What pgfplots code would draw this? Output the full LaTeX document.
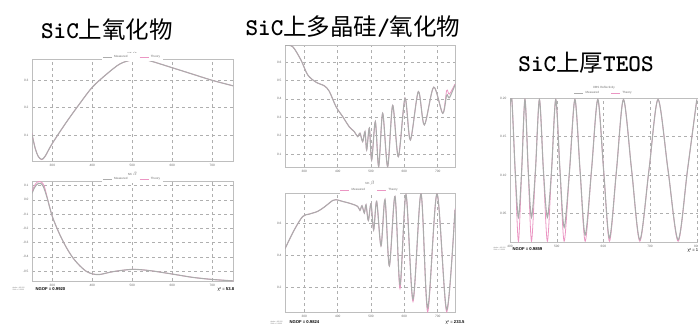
\documentclass[border=0pt]{standalone}
\usepackage{fontspec}
\setmainfont{Liberation Sans}
\newfontfamily\cjk{Noto Sans CJK SC}
\usepackage{pgfplots}
\pgfplotsset{compat=1.18}
\definecolor{meas}{RGB}{172,172,172}
\definecolor{theo}{RGB}{235,150,195}
\definecolor{framec}{RGB}{190,190,190}
\definecolor{gridc}{RGB}{175,175,175}
\definecolor{lbl}{RGB}{110,110,110}
\newcommand{\ttl}{\ttfamily\bfseries\fontsize{24}{24}\selectfont}
\newcommand{\ctl}{\cjk\mdseries\fontsize{23.5}{24}\selectfont}
\pgfplotsset{
 panel/.style={
  scale only axis,
  axis line style={framec, line width=0.8pt},
  grid=major, major grid style={gridc, dashed, line width=0.4pt},
  major tick length=0pt,
  tick label style={font=\fontsize{3.2}{3.5}\selectfont, text=lbl},
  /pgf/number format/assume math mode=true,
  clip mode=individual,
  legend style={draw=none, fill=white, font=\fontsize{3}{3.5}\selectfont, text=lbl,
    legend columns=2, anchor=center, inner sep=0.3pt,
    /tikz/every even column/.append style={column sep=10pt}},
  legend image code/.code={\draw[##1, line width=0.4pt] (0pt,0pt) -- (9pt,0pt);},
  every axis plot/.append style={no markers, smooth},
 },
 th/.style={theo, line width=0.8pt},
 me/.style={meas, line width=1.1pt},
}
\begin{document}
\begin{tikzpicture}
% ---------- titles ----------
\node[anchor=base] at (107pt,287pt) {\ttl SiC{\ctl 上氧化物}};
\node[anchor=base] at (353pt,290pt) {\ttl SiC{\ctl 上多晶硅}/{\ctl 氧化物}};
\node[anchor=base] at (586pt,253.5pt) {\ttl SiC{\ctl 上厚}TEOS};

% ---------- panel 1 top ----------
\begin{axis}[panel, at={(32pt,164pt)}, anchor=south west, width=201pt, height=102pt,
  xmin=249, xmax=752, ymin=0.005, ymax=0.378,
  xtick={300,400,500,600,700}, ytick={0.1,0.2,0.3},
  yticklabel style={/pgf/number format/fixed,/pgf/number format/zerofill,/pgf/number format/precision=1},
  legend style={at={(0.5,1)}, yshift=2pt}]
\addlegendimage{meas}\addlegendentry{Measured}
\addlegendimage{theo}\addlegendentry{Theory}
\addplot[th, forget plot] coordinates {(248.5,0.108) (257,0.052) (265,0.021) (273.5,0.010) (282,0.022) (300,0.069) (336,0.149) (369,0.216) (400,0.275) (436,0.323) (469,0.360) (500,0.375) (527,0.377) (552,0.368) (600,0.346) (650,0.323) (700,0.300) (752,0.280)};
\addplot[me, forget plot] coordinates {(248.5,0.106) (257,0.051) (265,0.021) (273.5,0.011) (282,0.023) (300,0.070) (336,0.149) (369,0.216) (400,0.275) (436,0.323) (469,0.360) (500,0.375) (527,0.377) (552,0.368) (600,0.346) (650,0.323) (700,0.300) (752,0.280)};
\node[font=\fontsize{3}{3.5}\selectfont, text=lbl] at (rel axis cs:0.5,1) [yshift=6pt] {NK $\alpha$};
\end{axis}

% ---------- panel 1 bottom ----------
\begin{axis}[panel, at={(32pt,44pt)}, anchor=south west, width=201pt, height=100pt,
  xmin=249, xmax=752, ymin=-0.571, ymax=0.133,
  xtick={300,400,500,600,700}, ytick={-0.5,-0.4,-0.3,-0.2,-0.1,0,0.1},
  yticklabel style={/pgf/number format/fixed,/pgf/number format/zerofill,/pgf/number format/precision=1},
  legend style={at={(0.5,1)}, yshift=2pt}]
\addlegendimage{meas}\addlegendentry{Measured}
\addlegendimage{theo}\addlegendentry{Theory}
\addplot[th, forget plot] coordinates {(249,0.055) (255,0.100) (262,0.125) (268,0.130) (274,0.122) (280,0.095) (286,0.030) (300,-0.118) (319,-0.247) (336,-0.340) (352,-0.410) (369,-0.465) (386,-0.505) (402,-0.522) (419,-0.525) (452,-0.505) (500,-0.489) (544,-0.498) (600,-0.522) (650,-0.545) (700,-0.560) (752,-0.570)};
\addplot[me, forget plot] coordinates {(249,0.046) (255,0.085) (261,0.108) (266,0.117) (271,0.116) (277.5,0.093) (286,0.023) (300,-0.118) (319,-0.247) (336,-0.340) (352,-0.410) (369,-0.465) (386,-0.505) (402,-0.522) (419,-0.525) (452,-0.505) (500,-0.489) (544,-0.498) (600,-0.522) (650,-0.545) (700,-0.560) (752,-0.570)};
\node[font=\fontsize{3}{3.5}\selectfont, text=lbl] at (rel axis cs:0.5,1) [yshift=7pt] {NK $\beta$};
\end{axis}
\node[anchor=west, font=\fontsize{1.8}{2.2}\selectfont, text=lbl, align=left] at (9pt,36.5pt) {Angle = 65.000\\Zone = 0.0000};
\node[anchor=west, font=\fontsize{4.2}{5}\selectfont\bfseries] at (32pt,36pt) {NGOF = 0.9920};
\node[anchor=west, font=\fontsize{4.2}{5}\selectfont] at (214pt,36pt) {χ² = \textbf{53.8}};

% ---------- panel 2 top ----------
\begin{axis}[panel, at={(285pt,158pt)}, anchor=south west, width=170pt, height=122pt,
  xmin=242, xmax=752, ymin=0.029, ymax=0.692,
  xtick={300,400,500,600,700}, ytick={0.1,0.2,0.3,0.4,0.5,0.6},
  yticklabel style={/pgf/number format/fixed,/pgf/number format/zerofill,/pgf/number format/precision=1}]
\addplot[th] coordinates {(242,0.691) (265,0.683) (290,0.610) (310,0.530) (335,0.490) (360,0.470) (375,0.440) (395,0.357) (415,0.303) (435,0.247) (450,0.221) (460,0.194) (467,0.213) (475,0.167) (482,0.221) (487,0.122) (495,0.240) (502,0.067) (513,0.276) (523,0.031) (535,0.321) (550,0.031) (565,0.364) (582,0.085) (602,0.403) (618,0.176) (642,0.439) (660,0.258) (688,0.463) (715,0.321) (727,0.445) (735,0.425) (752,0.480)};
\addplot[me] coordinates {(242,0.690) (265,0.683) (290,0.610) (310,0.530) (335,0.490) (360,0.470) (375,0.440) (395,0.357) (415,0.303) (435,0.247) (450,0.221) (460,0.194) (467,0.213) (475,0.167) (482,0.221) (487,0.122) (495,0.240) (502,0.067) (513,0.276) (523,0.031) (535,0.321) (550,0.031) (565,0.364) (582,0.085) (602,0.403) (618,0.176) (642,0.439) (660,0.258) (688,0.463) (715,0.321) (727,0.420) (735,0.405) (752,0.475)};
\end{axis}

% ---------- panel 2 bottom ----------
\begin{axis}[panel, at={(285pt,13pt)}, anchor=south west, width=170pt, height=119pt,
  xmin=242, xmax=752, ymin=0.045, ymax=0.7875,
  xtick={300,400,500,600,700}, ytick={0.2,0.4,0.6},
  yticklabel style={/pgf/number format/fixed,/pgf/number format/zerofill,/pgf/number format/precision=1},
  legend style={at={(0.5,1)}, yshift=2.5pt}]
\addlegendimage{theo}\addlegendentry{Measured}
\addlegendimage{theo}\addlegendentry{Theory}
\addplot[th, forget plot] coordinates {(242,0.440) (270,0.558) (295,0.641) (315,0.656) (340,0.673) (360,0.700) (385,0.741) (395,0.746) (415,0.735) (440,0.721) (460,0.704) (467,0.679) (473,0.708) (480,0.663) (485,0.714) (492,0.616) (500,0.721) (508,0.558) (517,0.735) (530,0.458) (542,0.746) (555,0.333) (572,0.766) (587,0.190) (605,0.777) (626,0.110) (650,0.783) (670,0.046) (698,0.783) (727,0.046) (752,0.690)};
\addplot[me, forget plot] coordinates {(242,0.440) (270,0.558) (295,0.641) (315,0.656) (340,0.673) (360,0.700) (385,0.741) (395,0.746) (415,0.735) (440,0.721) (460,0.704) (467,0.679) (473,0.708) (480,0.663) (485,0.714) (492,0.616) (500,0.721) (508,0.558) (517,0.735) (530,0.458) (542,0.746) (555,0.333) (572,0.766) (587,0.215) (605,0.777) (626,0.125) (650,0.783) (670,0.070) (698,0.783) (727,0.060) (752,0.680)};
\node[font=\fontsize{3}{3.5}\selectfont, text=lbl] at (rel axis cs:0.5,1) [yshift=10pt] {NK $\beta$};
\end{axis}
\node[anchor=west, font=\fontsize{1.8}{2.2}\selectfont, text=lbl, align=left] at (267pt,2.5pt) {Angle = 65.000\\Zone = 0.0000};
\node[anchor=west, font=\fontsize{4.2}{5}\selectfont\bfseries] at (286pt,2.5pt) {NGOF = 0.9824};
\node[anchor=west, font=\fontsize{4.2}{5}\selectfont] at (442pt,2.5pt) {χ² = \textbf{233.5}};

% ---------- panel 3 ----------
\begin{axis}[panel, at={(510pt,83pt)}, anchor=south west, width=188pt, height=144pt,
  xmin=400, xmax=802.6, ymin=0.013, ymax=0.2,
  xtick={400,500,600,700,800}, ytick={0.05,0.10,0.15,0.20},
  yticklabel style={/pgf/number format/fixed,/pgf/number format/zerofill,/pgf/number format/precision=2},
  legend style={at={(0.5,1)}, yshift=4.7pt}]
\addlegendimage{meas}\addlegendentry{Measured}
\addlegendimage{theo}\addlegendentry{Theory}
\addplot[th, forget plot] coordinates {(400,0.190) (404,0.198) (411,0.106) (418,0.014) (425,0.106) (432,0.198) (439,0.106) (446,0.014) (454.5,0.106) (463,0.198) (471.5,0.106) (480,0.014) (489,0.106) (498,0.198) (507,0.106) (516,0.014) (527.5,0.106) (539,0.198) (550,0.106) (561,0.014) (574.5,0.106) (588,0.198) (600.5,0.106) (613,0.014) (628,0.106) (643,0.198) (660.5,0.106) (678,0.014) (697.5,0.106) (717,0.198) (738.5,0.106) (760,0.014) (780,0.106) (800,0.198)};
\addplot[me, forget plot] coordinates {(400,0.190) (404,0.198) (411,0.106) (418,0.045) (425,0.106) (432,0.198) (439,0.106) (446,0.045) (454.5,0.106) (463,0.198) (471.5,0.106) (480,0.045) (489,0.106) (498,0.198) (507,0.106) (516,0.032) (527.5,0.106) (539,0.198) (550,0.106) (561,0.022) (574.5,0.106) (588,0.198) (600.5,0.106) (613,0.018) (628,0.106) (643,0.198) (660.5,0.106) (678,0.016) (697.5,0.106) (717,0.198) (738.5,0.106) (760,0.016) (780,0.106) (800,0.198)};
\node[font=\fontsize{3}{3.5}\selectfont, text=lbl] at (rel axis cs:0.5,1) [yshift=10pt] {DBS Reflectivity};
\end{axis}
\node[anchor=west, font=\fontsize{1.8}{2.2}\selectfont, text=lbl, align=left] at (490pt,76pt) {Angle = 65.000\\Zone = 0.0000};
\node[anchor=west, font=\fontsize{4.2}{5}\selectfont\bfseries] at (509pt,76pt) {NGOF = 0.9859};
\node[anchor=west, font=\fontsize{4.2}{5}\selectfont] at (684pt,74.5pt) {χ² = 1};

\pgfresetboundingbox
\useasboundingbox (0pt,0pt) rectangle (698pt,325pt);
\end{tikzpicture}
\end{document}
